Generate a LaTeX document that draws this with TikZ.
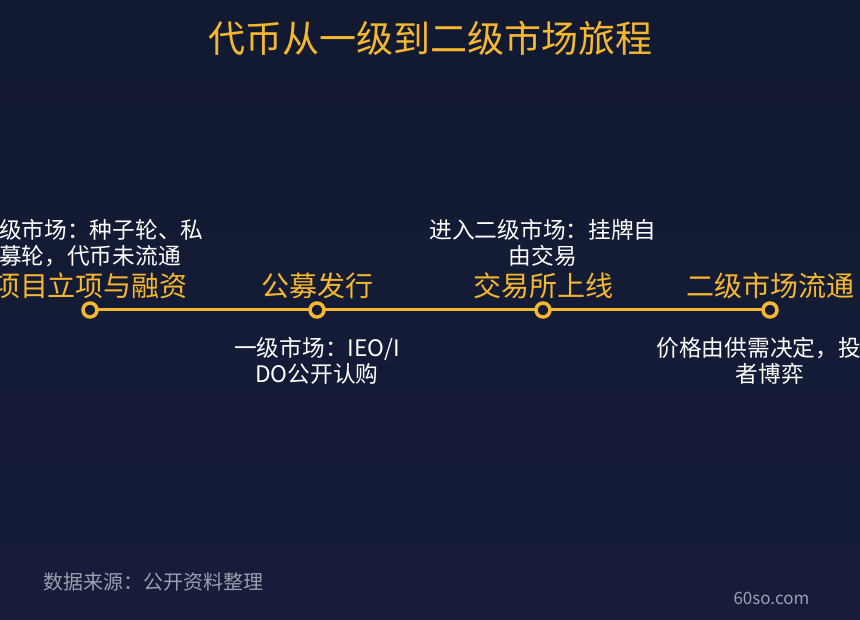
\documentclass[tikz,border=0pt]{standalone}
\usepackage{fontspec}
\setmainfont{Noto Sans CJK SC}
\usepackage{tikz}
\usetikzlibrary {positioning}
\definecolor{bgtop}{HTML}{121A31}
\definecolor{bgbot}{HTML}{161C3A}
\definecolor{gold}{HTML}{F5B72E}
\definecolor{srcgray}{HTML}{9AA0AE}
\tikzset{
        stage/.style={text=gold, font=\fontsize{28}{32}\selectfont, inner sep=0pt},
        desc/.style={text=white, align=center, font=\fontsize{22.7}{25.5}\selectfont, inner sep=0pt},
        dot/.style={circle, draw=gold, line width=3.5pt, fill=bgtop, minimum size=14pt, inner sep=0pt},
        track/.style={gold, line width=3pt},
 }
\begin{document}
\begin{tikzpicture}[x=1pt, y=-1pt]
    \useasboundingbox (0,0) rectangle (860,620);
    \clip (0,0) rectangle (860,620);
    \shade[top color=bgtop, bottom color=bgbot] (0,0) rectangle (860,620);

    \node[text=gold, font=\fontsize{37}{40}\selectfont] (title) at (430,38) {代币从一级到二级市场旅程};

    \coordinate (p1) at (90,310);
    \coordinate (p2) at (317,310);
    \coordinate (p3) at (543,310);
    \coordinate (p4) at (770,310);
    \draw[track] (p1) -- (p4);
    \foreach \p in {p1,p2,p3,p4}
        \node[dot] (d\p) at (\p) {};

    \node[stage] (s1) at (90,286) {项目立项与融资};
    \node[stage] (s2) at (317,286) {公募发行};
    \node[stage] (s3) at (543,286) {交易所上线};
    \node[stage] (s4) at (770,286) {二级市场流通};

    \node[desc] (t1) at (90,243) {一级市场：种子轮、私\\募轮，代币未流通};
    \node[desc] (b2) at (317,361) {一级市场：IEO/I\\DO公开认购};
    \node[desc] (t3) at (543,243) {进入二级市场：挂牌自\\由交易};
    \node[desc] (b4) at (770,361) {价格由供需决定，投资\\者博弈};

    \node[text=srcgray, anchor=west, font=\fontsize{20}{22}\selectfont] (src) at (40,582) {数据来源：公开资料整理};
    \node[text=srcgray, anchor=west, font=\fontsize{17}{20}\selectfont] (mark) at (730,598) {60so.com};
\end{tikzpicture}
\end{document}
